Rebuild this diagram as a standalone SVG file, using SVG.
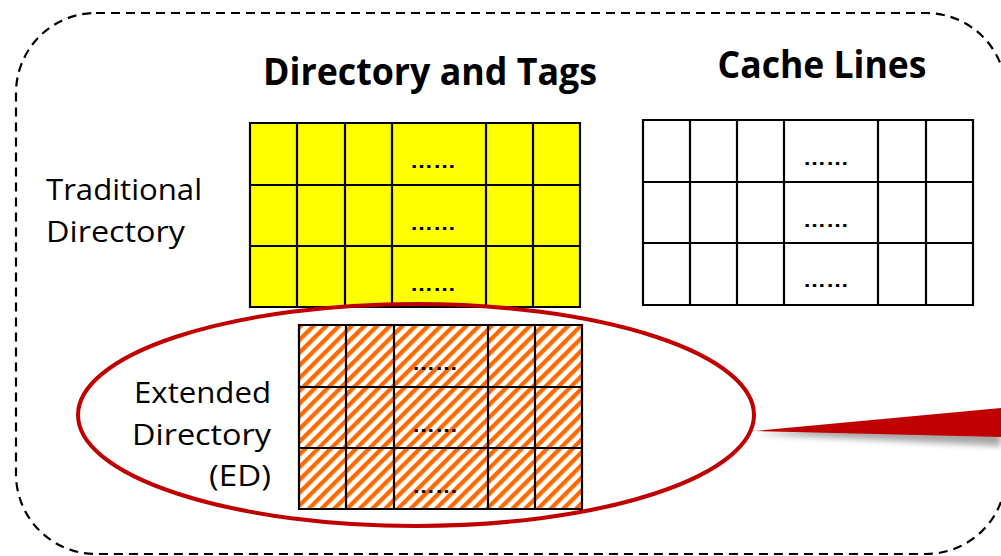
<svg xmlns="http://www.w3.org/2000/svg" width="1001" height="556" viewBox="0 0 1001 556">
  <style>
    .title { font-family: "Open Sans", "Liberation Sans", sans-serif; font-weight: bold; font-size: 37px; fill: #000; }
    .label { font-family: "Open Sans", "Liberation Sans", sans-serif; font-size: 30px; fill: #000; }
    .dots { font-family: "Liberation Sans", sans-serif; font-size: 20px; font-weight: bold; fill: #000; }
    .grid { fill: none; stroke: #000; stroke-width: 2.2; }
  </style>
  <defs>
    <pattern id="hatch" patternUnits="userSpaceOnUse" width="9" height="9" patternTransform="rotate(45)">
      <rect x="0" y="0" width="9" height="9" fill="#fff"/>
      <rect x="0" y="0" width="4.3" height="9" fill="#FF6A00"/>
    </pattern>
    <filter id="soft" x="-10%" y="-50%" width="120%" height="200%">
      <feGaussianBlur stdDeviation="3"/>
    </filter>
  </defs>

  <rect width="1001" height="556" fill="#fff"/>

  <!-- dashed outer boundary -->
  <rect x="16" y="13" width="990" height="541" rx="80" ry="80" fill="none" stroke="#000" stroke-width="2.2" stroke-dasharray="9 6"/>

  <!-- column headings -->
  <text class="title" x="430" y="85" text-anchor="middle" textLength="334" lengthAdjust="spacingAndGlyphs">Directory and Tags</text>
  <text class="title" x="822" y="78" text-anchor="middle" textLength="209" lengthAdjust="spacingAndGlyphs">Cache Lines</text>

  <!-- traditional directory -->
  <g id="traditional-label">
    <text class="label" x="46" y="200" textLength="156" lengthAdjust="spacingAndGlyphs">Traditional</text>
    <text class="label" x="46" y="242" textLength="139" lengthAdjust="spacingAndGlyphs">Directory</text>
  </g>
  <g id="directory-tags">
    <rect x="250" y="123" width="330" height="184" fill="#FFFF00"/>
    <path class="grid" d="M250 123H580V307H250Z M297 123V307 M345 123V307 M392 123V307 M486 123V307 M533 123V307 M250 185H580 M250 246H580"/>
    <text class="dots" x="433" y="168" text-anchor="middle" textLength="46" lengthAdjust="spacingAndGlyphs">……</text>
    <text class="dots" x="433" y="230" text-anchor="middle" textLength="46" lengthAdjust="spacingAndGlyphs">……</text>
    <text class="dots" x="433" y="291" text-anchor="middle" textLength="46" lengthAdjust="spacingAndGlyphs">……</text>
  </g>
  <g id="cache-lines">
    <rect x="643" y="120" width="330" height="185" fill="#fff"/>
    <path class="grid" d="M643 120H973V305H643Z M690 120V305 M737 120V305 M784 120V305 M878 120V305 M926 120V305 M643 182H973 M643 243H973"/>
    <text class="dots" x="826" y="165" text-anchor="middle" textLength="46" lengthAdjust="spacingAndGlyphs">……</text>
    <text class="dots" x="826" y="227" text-anchor="middle" textLength="46" lengthAdjust="spacingAndGlyphs">……</text>
    <text class="dots" x="826" y="287" text-anchor="middle" textLength="46" lengthAdjust="spacingAndGlyphs">……</text>
  </g>

  <!-- extended directory -->
  <g id="extended-directory">
    <rect x="299" y="325" width="283" height="184" fill="url(#hatch)"/>
    <path class="grid" d="M299 325H582V509H299Z M346 325V509 M394 325V509 M488 325V509 M535 325V509 M299 387H582 M299 448H582"/>
    <text class="dots" x="435" y="370" text-anchor="middle" textLength="46" lengthAdjust="spacingAndGlyphs">……</text>
    <text class="dots" x="435" y="432" text-anchor="middle" textLength="46" lengthAdjust="spacingAndGlyphs">……</text>
    <text class="dots" x="435" y="493" text-anchor="middle" textLength="46" lengthAdjust="spacingAndGlyphs">……</text>
  </g>
  <g id="extended-label">
    <text class="label" x="271" y="403" text-anchor="end" textLength="137" lengthAdjust="spacingAndGlyphs">Extended</text>
    <text class="label" x="271" y="445" text-anchor="end" textLength="139" lengthAdjust="spacingAndGlyphs">Directory</text>
    <text class="label" x="271" y="486" text-anchor="end" textLength="62" lengthAdjust="spacingAndGlyphs">(ED)</text>
  </g>

  <!-- highlight ellipse and callout -->
  <g id="highlight">
    <ellipse cx="416" cy="415" rx="338" ry="111" fill="none" stroke="#C00000" stroke-width="4"/>
  </g>
  <g id="connectors">
    <path d="M757 434 L1001 414 L1001 446 Z" fill="#000" opacity="0.35" filter="url(#soft)"/>
    <path d="M755 431 L1001 408 L1001 437 Z" fill="#C00000"/>
  </g>
</svg>
